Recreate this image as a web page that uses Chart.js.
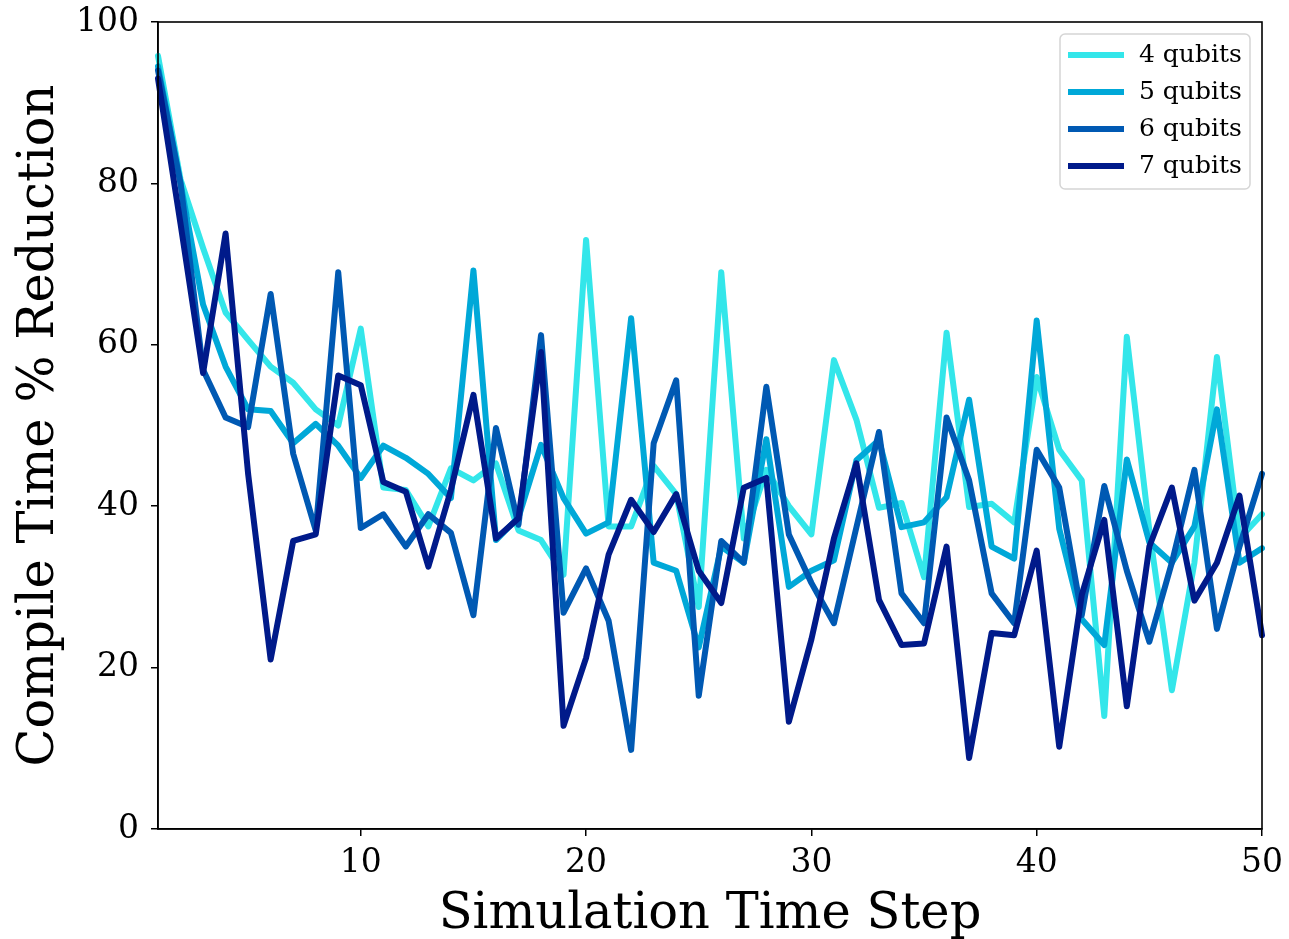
<!DOCTYPE html>
<html>
<head>
<meta charset="utf-8">
<script src="https://cdn.jsdelivr.net/npm/chart.js@4"></script>
<style>
  html, body { margin: 0; padding: 0; background: #fff; }
  #wrap { width: 1289px; height: 939px; }
</style>
</head>
<body>
<div id="wrap"><canvas id="chart1" width="1289" height="939"></canvas></div>
<script>
// time steps 1..50
const steps = [1,2,3,4,5,6,7,8,9,10,11,12,13,14,15,16,17,18,19,20,21,22,23,24,25,26,27,28,29,30,31,32,33,34,35,36,37,38,39,40,41,42,43,44,45,46,47,48,49,50];

const labels4 = ["4 qubits", "5 qubits", "6 qubits", "7 qubits"];

const q4 = [95.8,80.5,72,64,60.6,57.3,55.3,52,50,62,42.3,42,37.5,44.7,43.2,45.3,37,35.8,31.5,73,37.5,37.5,45,41.5,27.5,69,36,44.5,40,36.5,58.1,50.7,39.8,40.4,31.2,61.5,39.9,40.3,38,56,47,43.2,14,61,37,17.2,33,58.5,36,39];
const q5 = [94.5,80,65,57.3,52,51.8,47.8,50.2,47.5,43.5,47.5,46,44,41,69.2,35.8,38.6,47.6,41,36.6,38,63.3,33,32,22.5,35,33,48.3,30,32,33.3,45.7,48.2,37.4,38,41.1,53.2,35,33.5,63,37.2,26,22.8,45.8,35.5,33,37.5,52,33,34.8];
const q6 = [94,80,56.9,51,49.8,66.3,46.5,37,69,37.3,39,35,39,36.7,26.5,49.7,37.7,61.2,26.8,32.3,25.8,9.8,47.8,55.6,16.5,35.7,33,54.8,36.5,30.5,25.5,37.4,49.2,29.2,25.5,51,43.2,29.2,25.5,47,42.3,26.5,42.5,32,23.2,33,44.5,24.8,35,44];
const q7 = [93,75,56.5,73.8,44,21,35.7,36.5,56.2,55,43,41.8,32.5,42,53.8,36,38.5,59.1,12.8,21.2,34,40.8,36.8,41.5,32,28,42.3,43.5,13.3,23.5,36,45.3,28.4,22.8,23,35,8.8,24.3,24,34.5,10.2,29,38.3,15.2,35,42.3,28.3,33,41.3,24];

const colors = ['#33e6ea', '#00a8d8', '#0059b3', '#001a8a'];
const xTicks = [10,20,30,40,50];
const yTicks = [0,20,40,60,80,100];

const serif = "'DejaVu Serif', serif";

function makeSet(i, vals)
{
    var pts = [];
    for (var k = 0; k < steps.length; k++)
    {
        pts.push({x: steps[k], y: vals[k]});
    }
    return {
        label: labels4[i],
        data: pts,
        borderColor: colors[i],
        backgroundColor: colors[i],
        borderWidth: 6,
        borderJoinStyle: 'round',
        borderCapStyle: 'round',
        pointRadius: 0,
        tension: 0,
        fill: false,
        clip: 3,
        order: 3 - i
    };
}

// black frame round the plot, like matplotlib spines
const framePlugin = {
    id: 'frame',
    afterDatasetsDraw(chart) {
        const a = chart.chartArea, c = chart.ctx;
        c.save();
        c.strokeStyle = '#000';
        c.lineWidth = 1.6;
        c.strokeRect(a.left, a.top, a.right - a.left, a.bottom - a.top);
        c.restore();
    }
};

// legend box in the upper right corner
const legendPlugin = {
    id: 'boxLegend',
    afterDraw(chart) {
        const c = chart.ctx, a = chart.chartArea;
        const bw = 190, bh = 155;
        const bx = a.right - 12 - bw, by = a.top + 12;
        c.save();
        c.fillStyle = 'rgba(255,255,255,0.8)';
        c.strokeStyle = '#d5d5d5';
        c.lineWidth = 1.5;
        c.beginPath();
        c.roundRect(bx, by, bw, bh, 5);
        c.fill();
        c.stroke();
        c.font = "25px " + serif;
        c.textBaseline = 'middle';
        chart.data.datasets.forEach(function (ds, i) {
            var yy = by + 21 + i * 37;
            c.strokeStyle = ds.borderColor;
            c.lineWidth = 6;
            c.beginPath();
            c.moveTo(bx + 8, yy);
            c.lineTo(bx + 64, yy);
            c.stroke();
            c.fillStyle = '#000';
            c.fillText(ds.label, bx + 79, yy);
        });
        c.restore();
    }
};

new Chart(document.getElementById('chart1'), {
    type: 'line',
    data: {
        datasets: [makeSet(0, q4), makeSet(1, q5), makeSet(2, q6), makeSet(3, q7)]
    },
    options: {
        responsive: false,
        animation: false,
        devicePixelRatio: 1,
        layout: { padding: { top: 22, right: 27, left: 0, bottom: 0 } },
        plugins: { legend: { display: false }, tooltip: { enabled: false } },
        scales: {
            x: {
                type: 'linear',
                min: 1,
                max: 50,
                afterBuildTicks: function (scale) {
                    scale.ticks = xTicks.map(function (v) { return {value: v}; });
                },
                afterFit: function (scale) {
                    scale.height = 110;
                    scale.paddingLeft = 0;
                    scale.paddingRight = 0;
                },
                grid: { drawOnChartArea: false, drawTicks: true, tickLength: 7, color: '#000', lineWidth: 1.5 },
                border: { display: true, color: '#000', width: 1.5 },
                ticks: { color: '#000', font: { family: serif, size: 33 }, padding: 8, maxRotation: 0 },
                title: { display: true, text: 'Simulation Time Step', color: '#000', font: { family: serif, size: 49.5, lineHeight: 0.95 }, padding: { top: 0, bottom: 0 } }
            },
            y: {
                min: 0,
                max: 100,
                afterBuildTicks: function (scale) {
                    scale.ticks = yTicks.map(function (v) { return {value: v}; });
                },
                afterFit: function (scale) {
                    scale.width = 158;
                    scale.paddingTop = 0;
                    scale.paddingBottom = 0;
                },
                grid: { drawOnChartArea: false, drawTicks: true, tickLength: 7, color: '#000', lineWidth: 1.5 },
                border: { display: true, color: '#000', width: 1.5 },
                ticks: { color: '#000', font: { family: serif, size: 33 }, padding: 12 },
                title: { display: true, text: 'Compile Time % Reduction', color: '#000', font: { family: serif, size: 49.5, lineHeight: 1.05 }, padding: { top: 14, bottom: 0 } }
            }
        }
    },
    plugins: [framePlugin, legendPlugin]
});
</script>
</body>
</html>
